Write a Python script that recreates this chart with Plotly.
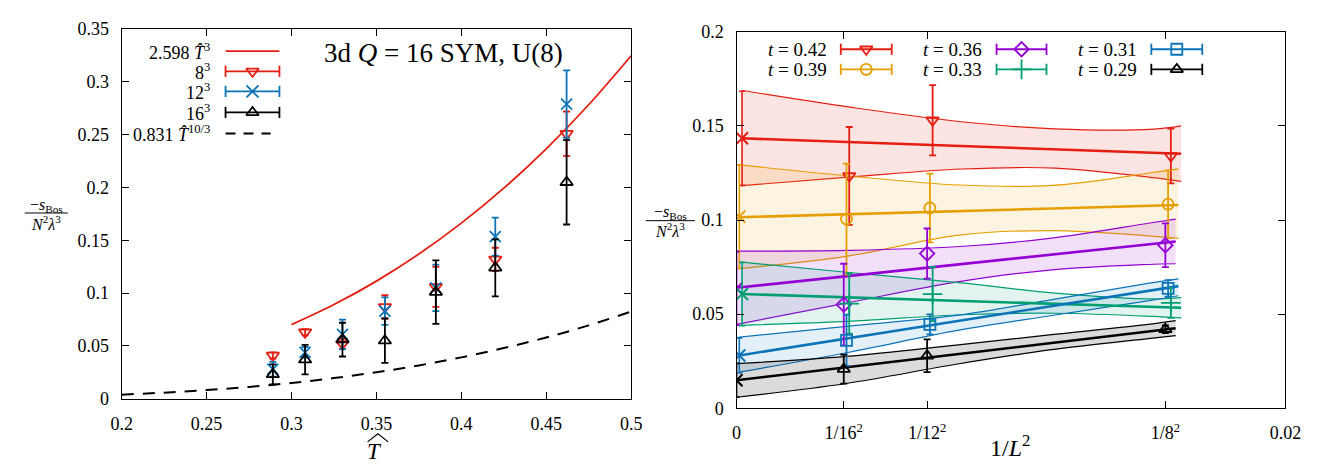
import plotly.graph_objects as go

W, H = 1328, 471
FONT = "Liberation Serif"

# ---------------- Left panel data ----------------
T_hat = [0.289, 0.308, 0.330, 0.355, 0.385, 0.420, 0.462]
s8 = [0.041, 0.063, 0.052, 0.087, 0.106, 0.132, 0.251]
s8_err = [0.003, 0.003, 0.005, 0.011, 0.019, 0.011, 0.021]
s12 = [0.028, 0.044, 0.061, 0.083, 0.105, 0.1535, 0.279]
s12_err = [0.007, 0.005, 0.014, 0.013, 0.022, 0.018, 0.032]
s16 = [0.023, 0.037, 0.056, 0.055, 0.101, 0.124, 0.205]
s16_err = [0.0095, 0.014, 0.016, 0.021, 0.030, 0.027, 0.040]

# curves
T_cub = [0.300, 0.325, 0.350, 0.375, 0.400, 0.425, 0.450, 0.475, 0.500]
s_cub = [0.0702, 0.0892, 0.1114, 0.1370, 0.1663, 0.1994, 0.2367, 0.2784, 0.3248]
T_dash = [0.200, 0.225, 0.250, 0.275, 0.300, 0.325, 0.350, 0.375, 0.400, 0.425, 0.450, 0.475, 0.500]
s_dash = [0.0039, 0.0058, 0.0082, 0.0112, 0.0150, 0.0196, 0.0251, 0.0316, 0.0392, 0.0480, 0.0580, 0.0695, 0.0825]

left_xticks = [0.2, 0.25, 0.3, 0.35, 0.4, 0.45, 0.5]
left_xticktext = ["0.2", "0.25", "0.3", "0.35", "0.4", "0.45", "0.5"]
left_yticks = [0, 0.05, 0.1, 0.15, 0.2, 0.25, 0.3, 0.35]
left_yticktext = ["0", "0.05", "0.1", "0.15", "0.2", "0.25", "0.3", "0.35"]

# ---------------- Right panel data ----------------
t_labels = ["0.42", "0.39", "0.36", "0.33", "0.31", "0.29"]
inv_L2 = [1 / 256, 1 / 144, 1 / 64]
pts = [
    [0.1234, 0.1530, 0.1340],
    [0.1005, 0.1064, 0.1084],
    [0.0551, 0.0822, 0.0866],
    [0.0556, 0.0607, 0.0560],
    [0.0361, 0.0446, 0.0637],
    [0.0208, 0.0279, 0.0420],
]
pts_err = [
    [0.0260, 0.0187, 0.0145],
    [0.0295, 0.0183, 0.0180],
    [0.0217, 0.0133, 0.0116],
    [0.0160, 0.0144, 0.0080],
    [0.0136, 0.0053, 0.0044],
    [0.0077, 0.0087, 0.0020],
]
extrap = [0.1434, 0.1018, 0.0637, 0.0607, 0.0281, 0.0149]
extrap_err = [0.0250, 0.0275, 0.0195, 0.0168, 0.0093, 0.0090]
fit_x = [0.0, 0.016]
fit_y = [
    [0.1434, 0.1352],
    [0.1015, 0.1080],
    [0.0640, 0.0886],
    [0.0607, 0.0534],
    [0.0281, 0.0649],
    [0.0149, 0.0425],
]
band_x = [0.0, 0.004, 0.008, 0.0114, 0.015, 0.016]
band_hi = [
    [0.1688, 0.1598, 0.1522, 0.1484, 0.1483, 0.1500],
    [0.1293, 0.1234, 0.1186, 0.1184, 0.1251, 0.1272],
    [0.0835, 0.0839, 0.0858, 0.0903, 0.0983, 0.1005],
    [0.0776, 0.0720, 0.0666, 0.0612, 0.0581, 0.0588],
    [0.0378, 0.0437, 0.0495, 0.0577, 0.0666, 0.0688],
    [0.0237, 0.0276, 0.0336, 0.0390, 0.0446, 0.0466],
]
band_lo = [
    [0.1183, 0.1229, 0.1271, 0.1276, 0.1225, 0.1205],
    [0.0742, 0.0810, 0.0920, 0.0944, 0.0915, 0.0903],
    [0.0446, 0.0559, 0.0670, 0.0734, 0.0764, 0.0768],
    [0.0441, 0.0463, 0.0497, 0.0505, 0.0488, 0.0480],
    [0.0192, 0.0298, 0.0415, 0.0493, 0.0573, 0.0598],
    [0.0059, 0.0132, 0.0234, 0.0310, 0.0370, 0.0386],
]
right_xticks = [0, 1 / 256, 1 / 144, 1 / 64, 0.02]
right_xticktext = ["0", "1/16<sup>2</sup>", "1/12<sup>2</sup>", "1/8<sup>2</sup>", "0.02"]
right_yticks = [0, 0.05, 0.1, 0.15, 0.2]
right_yticktext = ["0", "0.05", "0.1", "0.15", "0.2"]

# ---------------- styles ----------------
RED = "#e41e12"
BLUE = "#0d74b8"
BLACK = "#000000"
ORANGE = "#e69f00"
PURPLE = "#9400d3"
GREEN = "#009e73"

r_colors = [RED, ORANGE, PURPLE, GREEN, BLUE, BLACK]
r_symbols = ["triangle-down-open", "circle-open", "diamond-open", "cross-thin-open",
             "square-open", "triangle-up-open"]
r_offsets = [0.0002, 0.0001, 0.0, 0.0002, 0.0001, 0.0]
r_fill_alpha = [0.12, 0.12, 0.12, 0.11, 0.11, 0.14]


def rgba(hexc, a):
    h = hexc.lstrip("#")
    r, g, b = int(h[0:2], 16), int(h[2:4], 16), int(h[4:6], 16)
    return f"rgba({r},{g},{b},{a})"


def PX(x):
    return x / W


def PY(y):
    return 1 - y / H


fig = go.Figure()

# ---------------- Left panel traces ----------------
fig.add_trace(go.Scatter(x=T_cub, y=s_cub, mode="lines", xaxis="x", yaxis="y",
                         line=dict(color=RED, width=1.8, shape="spline"), showlegend=False))
fig.add_trace(go.Scatter(x=T_dash, y=s_dash, mode="lines", xaxis="x", yaxis="y",
                         line=dict(color=BLACK, width=2, dash="12px,9px", shape="spline"),
                         showlegend=False))
for ys, es, col, sym in [(s8, s8_err, RED, "triangle-down-open"),
                         (s12, s12_err, BLUE, "x-thin-open"),
                         (s16, s16_err, BLACK, "triangle-up-open")]:
    fig.add_trace(go.Scatter(
        x=T_hat, y=ys, mode="markers", xaxis="x", yaxis="y", showlegend=False,
        marker=dict(symbol=sym, size=11, color=col, line=dict(color=col, width=1.8)),
        error_y=dict(type="data", array=es, visible=True, color=col, thickness=1.8, width=3.5)))

# ---------------- Right panel traces ----------------
for i in range(6):
    col = r_colors[i]
    off = r_offsets[i]
    bx = [v + off for v in band_x]
    fig.add_trace(go.Scatter(x=bx, y=band_hi[i], mode="lines", xaxis="x2", yaxis="y2",
                             line=dict(color=col, width=1.2, shape="spline"), showlegend=False))
    fig.add_trace(go.Scatter(x=bx, y=band_lo[i], mode="lines", xaxis="x2", yaxis="y2",
                             fill="tonexty", fillcolor=rgba(col, r_fill_alpha[i]),
                             line=dict(color=col, width=1.2, shape="spline"), showlegend=False))
for i in range(6):
    col = r_colors[i]
    off = r_offsets[i]
    fig.add_trace(go.Scatter(x=[v + off for v in fit_x], y=fit_y[i], mode="lines",
                             xaxis="x2", yaxis="y2", line=dict(color=col, width=2.6),
                             showlegend=False))
for i in range(6):
    col = r_colors[i]
    off = r_offsets[i]
    fig.add_trace(go.Scatter(
        x=[off], y=[extrap[i]], mode="markers", xaxis="x2", yaxis="y2", showlegend=False,
        marker=dict(symbol="x-thin-open", size=12, color=col, line=dict(color=col, width=2)),
        error_y=dict(type="data", array=[extrap_err[i]], visible=True, color=col,
                     thickness=1.6, width=3)))
    fig.add_trace(go.Scatter(
        x=[v + off for v in inv_L2], y=pts[i], mode="markers", xaxis="x2", yaxis="y2",
        showlegend=False,
        marker=dict(symbol=r_symbols[i], size=11 if i != 3 else 14, color=col,
                    line=dict(color=col, width=1.8)),
        error_y=dict(type="data", array=pts_err[i], visible=True, color=col,
                     thickness=1.8, width=3.5)))

# ---------------- Legend samples (overlay pixel axes) ----------------
def legend_sample(x1, x2, y, col, sym=None, caps=True, dash=None, msize=11):
    fig.add_trace(go.Scatter(x=[x1, x2], y=[y, y], mode="lines", xaxis="x3", yaxis="y3",
                             line=dict(color=col, width=1.8, dash=dash), showlegend=False,
                             hoverinfo="skip"))
    if caps:
        fig.add_trace(go.Scatter(x=[x1, x2], y=[y, y], mode="markers", xaxis="x3", yaxis="y3",
                                 marker=dict(symbol="line-ns-open", size=8, color=col,
                                             line=dict(color=col, width=1.8)),
                                 showlegend=False, hoverinfo="skip"))
    if sym:
        fig.add_trace(go.Scatter(x=[(x1 + x2) / 2], y=[y], mode="markers", xaxis="x3",
                                 yaxis="y3",
                                 marker=dict(symbol=sym, size=msize, color=col,
                                             line=dict(color=col, width=1.8)),
                                 showlegend=False, hoverinfo="skip"))


annotations = []


def text(x, y, s, size=18, xanchor="center", color="black"):
    annotations.append(dict(x=PX(x), y=PY(y), xref="paper", yref="paper", text=s,
                            showarrow=False, xanchor=xanchor, yanchor="middle",
                            font=dict(family=FONT, size=size, color=color)))


# left legend
left_leg_rows = [43, 64, 85, 107, 129]
left_leg_text = ["2.598 <i>T\u0302</i><sup>3</sup>", "8<sup>3</sup>", "12<sup>3</sup>",
                 "16<sup>3</sup>", "0.831 <i>T\u0302</i><sup>10/3</sup>"]
for yy, s in zip(left_leg_rows, left_leg_text):
    text(205, yy, s, size=18, xanchor="right")
legend_sample(219, 274, left_leg_rows[0], RED, caps=False)
legend_sample(219, 274, left_leg_rows[1], RED, sym="triangle-down-open")
legend_sample(219, 274, left_leg_rows[2], BLUE, sym="x-thin-open", msize=12)
legend_sample(219, 274, left_leg_rows[3], BLACK, sym="triangle-up-open")
legend_sample(219, 265, left_leg_rows[4], BLACK, caps=False, dash="10px,8px")

# right legend
r_leg_rows = [41, 62]
r_leg_cols_text = [835, 993, 1151]
r_leg_cols_line = [(847, 899), (1006, 1057), (1164, 1216)]
for i in range(6):
    c, r = i // 2, i % 2
    text(r_leg_cols_text[c], r_leg_rows[r], "<i>t</i> = " + t_labels[i], size=19,
         xanchor="right")
    x1, x2 = r_leg_cols_line[c]
    legend_sample(x1, x2, r_leg_rows[r], r_colors[i], sym=r_symbols[i],
                  msize=11 if i != 3 else 14)

# title & axis titles
text(441, 45, "3d <i>Q</i> = 16 SYM, U(8)", size=27)
text(371, 461, "<i>T</i>", size=23)
text(1020, 455, "1/<i>L</i><sup>2</sup>", size=24)

# y-axis fraction labels
frac_pos = [(36, 212, 14, 58), (673, 220, 648, 698)]
for cx, cy, x1, x2 in frac_pos:
    text(cx, cy - 8, "\u2212<i>s</i><sub>Bos</sub>", size=16)
    text(cx, cy + 10, "<i>N</i><sup>2</sup><i>\u03bb</i><sup>3</sup>", size=16)

shapes = []
for cx, cy, x1, x2 in frac_pos:
    shapes.append(dict(type="line", xref="paper", yref="paper", x0=PX(x1), x1=PX(x2),
                       y0=PY(cy), y1=PY(cy), line=dict(color="black", width=1)))
# wide hat over the T of the x-axis title
shapes.append(dict(type="path", xref="x3", yref="y3",
                   path="M 364 451 L 374.5 442.5 L 385 451",
                   line=dict(color="black", width=1.2)))

axis_common = dict(showgrid=False, zeroline=False, showline=True, linecolor="black",
                   linewidth=1.4, mirror="ticks", ticks="inside", ticklen=7, tickwidth=1.2,
                   tickcolor="black", tickfont=dict(family=FONT, size=18, color="black"),
                   ticklabelstandoff=8)

fig.update_layout(
    width=W, height=H, autosize=False,
    margin=dict(l=0, r=0, t=0, b=0, pad=0),
    paper_bgcolor="white", plot_bgcolor="rgba(0,0,0,0)",
    showlegend=False,
    xaxis=dict(domain=[PX(113), PX(633)], anchor="y", range=[0.2, 0.5],
               tickmode="array", tickvals=left_xticks, ticktext=left_xticktext, **axis_common),
    yaxis=dict(domain=[PY(406), PY(20)], anchor="x", range=[0, 0.35],
               tickmode="array", tickvals=left_yticks, ticktext=left_yticktext, **axis_common),
    xaxis2=dict(domain=[PX(740.6), PX(1300.9)], anchor="y2", range=[0, 0.02],
                tickmode="array", tickvals=right_xticks, ticktext=right_xticktext,
                **axis_common),
    yaxis2=dict(domain=[PY(416), PY(22.7)], anchor="x2", range=[0, 0.2],
                tickmode="array", tickvals=right_yticks, ticktext=right_yticktext,
                **axis_common),
    xaxis3=dict(domain=[0, 1], anchor="y3", range=[0, W], visible=False, fixedrange=True),
    yaxis3=dict(domain=[0, 1], anchor="x3", range=[H, 0], visible=False, fixedrange=True),
    annotations=annotations,
    shapes=shapes,
)

fig.write_html(
    "out.html",
    config={"displayModeBar": False},
    post_script="document.body.style.margin='0px';document.body.style.overflow='hidden';",
)
